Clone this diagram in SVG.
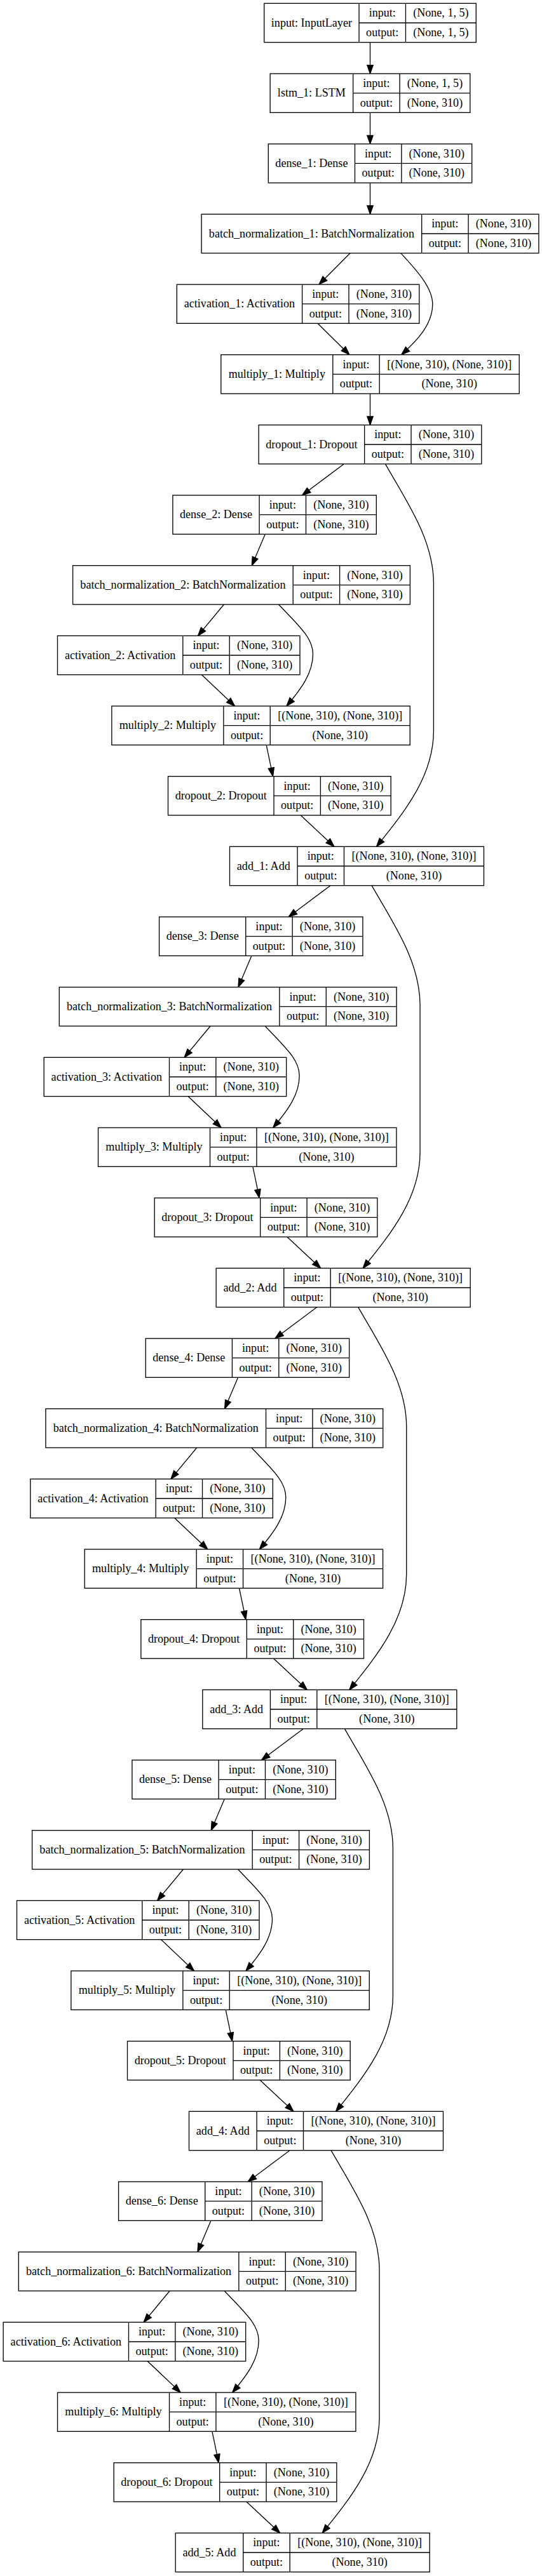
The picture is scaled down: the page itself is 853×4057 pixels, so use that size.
<svg xmlns="http://www.w3.org/2000/svg" width="853" height="4057" viewBox="0 0 853 4057">
<style>
.n rect{fill:#fff;stroke:#000;stroke-width:1.33}
.n path{fill:none;stroke:#000;stroke-width:1.33}
.n text{font-family:"Liberation Serif","Times New Roman",serif;font-size:18.1px;text-anchor:middle;fill:#000}
.e{fill:none;stroke:#000;stroke-width:1.33;marker-end:url(#arr)}
</style>
<defs>
<marker id="arr" markerUnits="userSpaceOnUse" markerWidth="16" markerHeight="12" refX="13.33" refY="4.67" orient="auto" viewBox="0 0 16 12" overflow="visible">
<path d="M0,0 L13.33,4.67 L0,9.33 Z" fill="#000" stroke="#000" stroke-width="1.33" stroke-linejoin="miter"/>
</marker>
</defs>
<rect x="0" y="0" width="853" height="4057" fill="#fff"/>

<g id="connectors">
<path class="e" d="M582.5,66.67 L582.5,116"/>
<path class="e" d="M582.5,177.33 L582.5,226.67"/>
<path class="e" d="M582.5,288 L582.5,337.33"/>
<path class="e" d="M551,398.67 L502,448"/>
<path class="e" d="M630.7,398.67 C660,430 680.8,455 680.8,479 C680.8,510 658,535 631.7,558.67"/>
<path class="e" d="M500,509.33 L550,558.67"/>
<path class="e" d="M582.5,620 L582.5,669.33"/>
<g id="block_edges_1">
<path class="e" d="M541.3,730.67 L475.5,780"/>
<path class="e" d="M606.4,730.67 C640,790 682.4,850 682.4,919 L682.4,1151 C682.4,1220 640,1275 592.5,1333.33"/>
<path class="e" d="M417.3,841.33 L396.3,890.67"/>
<path class="e" d="M352.4,952 L311.5,1001.33"/>
<path class="e" d="M438.5,952 C470,985 492.5,1005 492.5,1030 C492.5,1060 474,1085 451,1112"/>
<path class="e" d="M317.5,1062.67 L369.5,1112"/>
<path class="e" d="M419.2,1173.33 L429.5,1222.67"/>
<path class="e" d="M473.2,1284 L526,1333.33"/>
</g>
<g id="block_edges_2" transform="translate(-21.333,664)">
<path class="e" d="M541.3,730.67 L475.5,780"/>
<path class="e" d="M606.4,730.67 C640,790 682.4,850 682.4,919 L682.4,1151 C682.4,1220 640,1275 592.5,1333.33"/>
<path class="e" d="M417.3,841.33 L396.3,890.67"/>
<path class="e" d="M352.4,952 L311.5,1001.33"/>
<path class="e" d="M438.5,952 C470,985 492.5,1005 492.5,1030 C492.5,1060 474,1085 451,1112"/>
<path class="e" d="M317.5,1062.67 L369.5,1112"/>
<path class="e" d="M419.2,1173.33 L429.5,1222.67"/>
<path class="e" d="M473.2,1284 L526,1333.33"/>
</g>
<g id="block_edges_3" transform="translate(-42.667,1328)">
<path class="e" d="M541.3,730.67 L475.5,780"/>
<path class="e" d="M606.4,730.67 C640,790 682.4,850 682.4,919 L682.4,1151 C682.4,1220 640,1275 592.5,1333.33"/>
<path class="e" d="M417.3,841.33 L396.3,890.67"/>
<path class="e" d="M352.4,952 L311.5,1001.33"/>
<path class="e" d="M438.5,952 C470,985 492.5,1005 492.5,1030 C492.5,1060 474,1085 451,1112"/>
<path class="e" d="M317.5,1062.67 L369.5,1112"/>
<path class="e" d="M419.2,1173.33 L429.5,1222.67"/>
<path class="e" d="M473.2,1284 L526,1333.33"/>
</g>
<g id="block_edges_4" transform="translate(-64,1992)">
<path class="e" d="M541.3,730.67 L475.5,780"/>
<path class="e" d="M606.4,730.67 C640,790 682.4,850 682.4,919 L682.4,1151 C682.4,1220 640,1275 592.5,1333.33"/>
<path class="e" d="M417.3,841.33 L396.3,890.67"/>
<path class="e" d="M352.4,952 L311.5,1001.33"/>
<path class="e" d="M438.5,952 C470,985 492.5,1005 492.5,1030 C492.5,1060 474,1085 451,1112"/>
<path class="e" d="M317.5,1062.67 L369.5,1112"/>
<path class="e" d="M419.2,1173.33 L429.5,1222.67"/>
<path class="e" d="M473.2,1284 L526,1333.33"/>
</g>
<g id="block_edges_5" transform="translate(-85.333,2656)">
<path class="e" d="M541.3,730.67 L475.5,780"/>
<path class="e" d="M606.4,730.67 C640,790 682.4,850 682.4,919 L682.4,1151 C682.4,1220 640,1275 592.5,1333.33"/>
<path class="e" d="M417.3,841.33 L396.3,890.67"/>
<path class="e" d="M352.4,952 L311.5,1001.33"/>
<path class="e" d="M438.5,952 C470,985 492.5,1005 492.5,1030 C492.5,1060 474,1085 451,1112"/>
<path class="e" d="M317.5,1062.67 L369.5,1112"/>
<path class="e" d="M419.2,1173.33 L429.5,1222.67"/>
<path class="e" d="M473.2,1284 L526,1333.33"/>
</g>
</g>

<g id="input" class="n" transform="translate(415.75,5.33)"><rect width="333.5" height="61.33"/><path d="M149.3,0V61.33M222.7,0V61.33M149.3,30.67H333.5"/><text x="74.65" y="36.3">input: InputLayer</text><text x="186" y="21">input:</text><text x="186" y="51.7">output:</text><text x="278.1" y="21">(None, 1, 5)</text><text x="278.1" y="51.7">(None, 1, 5)</text></g>
<g id="lstm_1" class="n" transform="translate(425.15,116)"><rect width="314.7" height="61.33"/><path d="M130.5,0V61.33M203.9,0V61.33M130.5,30.67H314.7"/><text x="65.25" y="36.3">lstm_1: LSTM</text><text x="167.2" y="21">input:</text><text x="167.2" y="51.7">output:</text><text x="259.3" y="21">(None, 1, 5)</text><text x="259.3" y="51.7">(None, 310)</text></g>
<g id="dense_1" class="n" transform="translate(422.3,226.67)"><rect width="320.4" height="61.33"/><path d="M136.2,0V61.33M209.6,0V61.33M136.2,30.67H320.4"/><text x="68.1" y="36.3">dense_1: Dense</text><text x="172.9" y="21">input:</text><text x="172.9" y="51.7">output:</text><text x="265" y="21">(None, 310)</text><text x="265" y="51.7">(None, 310)</text></g>
<g id="batch_normalization_1" class="n" transform="translate(317.1,337.33)"><rect width="530.8" height="61.33"/><path d="M346.6,0V61.33M420,0V61.33M346.6,30.67H530.8"/><text x="173.3" y="36.3">batch_normalization_1: BatchNormalization</text><text x="383.3" y="21">input:</text><text x="383.3" y="51.7">output:</text><text x="475.4" y="21">(None, 310)</text><text x="475.4" y="51.7">(None, 310)</text></g>
<g id="activation_1" class="n" transform="translate(278.3,448)"><rect width="381.5" height="61.33"/><path d="M197.3,0V61.33M270.7,0V61.33M197.3,30.67H381.5"/><text x="98.65" y="36.3">activation_1: Activation</text><text x="234" y="21">input:</text><text x="234" y="51.7">output:</text><text x="326.1" y="21">(None, 310)</text><text x="326.1" y="51.7">(None, 310)</text></g>
<g id="multiply_1" class="n" transform="translate(347.8,558.67)"><rect width="469.4" height="61.33"/><path d="M176,0V61.33M249.4,0V61.33M176,30.67H469.4"/><text x="88" y="36.3">multiply_1: Multiply</text><text x="212.7" y="21">input:</text><text x="212.7" y="51.7">output:</text><text x="359.4" y="21">[(None, 310), (None, 310)]</text><text x="359.4" y="51.7">(None, 310)</text></g>
<g id="dropout_1" class="n" transform="translate(407.15,669.33)"><rect width="350.7" height="61.33"/><path d="M166.5,0V61.33M239.9,0V61.33M166.5,30.67H350.7"/><text x="83.25" y="36.3">dropout_1: Dropout</text><text x="203.2" y="21">input:</text><text x="203.2" y="51.7">output:</text><text x="295.3" y="21">(None, 310)</text><text x="295.3" y="51.7">(None, 310)</text></g>

<g id="dense_2" class="n" transform="translate(271.9,780)"><rect width="320.4" height="61.33"/><path d="M136.2,0V61.33M209.6,0V61.33M136.2,30.67H320.4"/><text x="68.1" y="36.3">dense_2: Dense</text><text x="172.9" y="21">input:</text><text x="172.9" y="51.7">output:</text><text x="265" y="21">(None, 310)</text><text x="265" y="51.7">(None, 310)</text></g>
<g id="batch_normalization_2" class="n" transform="translate(114.6,890.67)"><rect width="530.8" height="61.33"/><path d="M346.6,0V61.33M420,0V61.33M346.6,30.67H530.8"/><text x="173.3" y="36.3">batch_normalization_2: BatchNormalization</text><text x="383.3" y="21">input:</text><text x="383.3" y="51.7">output:</text><text x="475.4" y="21">(None, 310)</text><text x="475.4" y="51.7">(None, 310)</text></g>
<g id="activation_2" class="n" transform="translate(90.5,1001.33)"><rect width="381.5" height="61.33"/><path d="M197.3,0V61.33M270.7,0V61.33M197.3,30.67H381.5"/><text x="98.65" y="36.3">activation_2: Activation</text><text x="234" y="21">input:</text><text x="234" y="51.7">output:</text><text x="326.1" y="21">(None, 310)</text><text x="326.1" y="51.7">(None, 310)</text></g>
<g id="multiply_2" class="n" transform="translate(175.85,1112)"><rect width="469.4" height="61.33"/><path d="M176,0V61.33M249.4,0V61.33M176,30.67H469.4"/><text x="88" y="36.3">multiply_2: Multiply</text><text x="212.7" y="21">input:</text><text x="212.7" y="51.7">output:</text><text x="359.4" y="21">[(None, 310), (None, 310)]</text><text x="359.4" y="51.7">(None, 310)</text></g>
<g id="dropout_2" class="n" transform="translate(264.5,1222.67)"><rect width="350.7" height="61.33"/><path d="M166.5,0V61.33M239.9,0V61.33M166.5,30.67H350.7"/><text x="83.25" y="36.3">dropout_2: Dropout</text><text x="203.2" y="21">input:</text><text x="203.2" y="51.7">output:</text><text x="295.3" y="21">(None, 310)</text><text x="295.3" y="51.7">(None, 310)</text></g>
<g id="add_1" class="n" transform="translate(361.5,1333.33)"><rect width="400" height="61.33"/><path d="M106.6,0V61.33M180,0V61.33M106.6,30.67H400"/><text x="53.3" y="36.3">add_1: Add</text><text x="143.3" y="21">input:</text><text x="143.3" y="51.7">output:</text><text x="290" y="21">[(None, 310), (None, 310)]</text><text x="290" y="51.7">(None, 310)</text></g>

<g id="dense_3" class="n" transform="translate(250.57,1444)"><rect width="320.4" height="61.33"/><path d="M136.2,0V61.33M209.6,0V61.33M136.2,30.67H320.4"/><text x="68.1" y="36.3">dense_3: Dense</text><text x="172.9" y="21">input:</text><text x="172.9" y="51.7">output:</text><text x="265" y="21">(None, 310)</text><text x="265" y="51.7">(None, 310)</text></g>
<g id="batch_normalization_3" class="n" transform="translate(93.27,1554.67)"><rect width="530.8" height="61.33"/><path d="M346.6,0V61.33M420,0V61.33M346.6,30.67H530.8"/><text x="173.3" y="36.3">batch_normalization_3: BatchNormalization</text><text x="383.3" y="21">input:</text><text x="383.3" y="51.7">output:</text><text x="475.4" y="21">(None, 310)</text><text x="475.4" y="51.7">(None, 310)</text></g>
<g id="activation_3" class="n" transform="translate(69.17,1665.33)"><rect width="381.5" height="61.33"/><path d="M197.3,0V61.33M270.7,0V61.33M197.3,30.67H381.5"/><text x="98.65" y="36.3">activation_3: Activation</text><text x="234" y="21">input:</text><text x="234" y="51.7">output:</text><text x="326.1" y="21">(None, 310)</text><text x="326.1" y="51.7">(None, 310)</text></g>
<g id="multiply_3" class="n" transform="translate(154.52,1776)"><rect width="469.4" height="61.33"/><path d="M176,0V61.33M249.4,0V61.33M176,30.67H469.4"/><text x="88" y="36.3">multiply_3: Multiply</text><text x="212.7" y="21">input:</text><text x="212.7" y="51.7">output:</text><text x="359.4" y="21">[(None, 310), (None, 310)]</text><text x="359.4" y="51.7">(None, 310)</text></g>
<g id="dropout_3" class="n" transform="translate(243.17,1886.67)"><rect width="350.7" height="61.33"/><path d="M166.5,0V61.33M239.9,0V61.33M166.5,30.67H350.7"/><text x="83.25" y="36.3">dropout_3: Dropout</text><text x="203.2" y="21">input:</text><text x="203.2" y="51.7">output:</text><text x="295.3" y="21">(None, 310)</text><text x="295.3" y="51.7">(None, 310)</text></g>
<g id="add_2" class="n" transform="translate(340.17,1997.33)"><rect width="400" height="61.33"/><path d="M106.6,0V61.33M180,0V61.33M106.6,30.67H400"/><text x="53.3" y="36.3">add_2: Add</text><text x="143.3" y="21">input:</text><text x="143.3" y="51.7">output:</text><text x="290" y="21">[(None, 310), (None, 310)]</text><text x="290" y="51.7">(None, 310)</text></g>

<g id="dense_4" class="n" transform="translate(229.23,2108)"><rect width="320.4" height="61.33"/><path d="M136.2,0V61.33M209.6,0V61.33M136.2,30.67H320.4"/><text x="68.1" y="36.3">dense_4: Dense</text><text x="172.9" y="21">input:</text><text x="172.9" y="51.7">output:</text><text x="265" y="21">(None, 310)</text><text x="265" y="51.7">(None, 310)</text></g>
<g id="batch_normalization_4" class="n" transform="translate(71.93,2218.67)"><rect width="530.8" height="61.33"/><path d="M346.6,0V61.33M420,0V61.33M346.6,30.67H530.8"/><text x="173.3" y="36.3">batch_normalization_4: BatchNormalization</text><text x="383.3" y="21">input:</text><text x="383.3" y="51.7">output:</text><text x="475.4" y="21">(None, 310)</text><text x="475.4" y="51.7">(None, 310)</text></g>
<g id="activation_4" class="n" transform="translate(47.83,2329.33)"><rect width="381.5" height="61.33"/><path d="M197.3,0V61.33M270.7,0V61.33M197.3,30.67H381.5"/><text x="98.65" y="36.3">activation_4: Activation</text><text x="234" y="21">input:</text><text x="234" y="51.7">output:</text><text x="326.1" y="21">(None, 310)</text><text x="326.1" y="51.7">(None, 310)</text></g>
<g id="multiply_4" class="n" transform="translate(133.18,2440)"><rect width="469.4" height="61.33"/><path d="M176,0V61.33M249.4,0V61.33M176,30.67H469.4"/><text x="88" y="36.3">multiply_4: Multiply</text><text x="212.7" y="21">input:</text><text x="212.7" y="51.7">output:</text><text x="359.4" y="21">[(None, 310), (None, 310)]</text><text x="359.4" y="51.7">(None, 310)</text></g>
<g id="dropout_4" class="n" transform="translate(221.83,2550.67)"><rect width="350.7" height="61.33"/><path d="M166.5,0V61.33M239.9,0V61.33M166.5,30.67H350.7"/><text x="83.25" y="36.3">dropout_4: Dropout</text><text x="203.2" y="21">input:</text><text x="203.2" y="51.7">output:</text><text x="295.3" y="21">(None, 310)</text><text x="295.3" y="51.7">(None, 310)</text></g>
<g id="add_3" class="n" transform="translate(318.83,2661.33)"><rect width="400" height="61.33"/><path d="M106.6,0V61.33M180,0V61.33M106.6,30.67H400"/><text x="53.3" y="36.3">add_3: Add</text><text x="143.3" y="21">input:</text><text x="143.3" y="51.7">output:</text><text x="290" y="21">[(None, 310), (None, 310)]</text><text x="290" y="51.7">(None, 310)</text></g>

<g id="dense_5" class="n" transform="translate(207.9,2772)"><rect width="320.4" height="61.33"/><path d="M136.2,0V61.33M209.6,0V61.33M136.2,30.67H320.4"/><text x="68.1" y="36.3">dense_5: Dense</text><text x="172.9" y="21">input:</text><text x="172.9" y="51.7">output:</text><text x="265" y="21">(None, 310)</text><text x="265" y="51.7">(None, 310)</text></g>
<g id="batch_normalization_5" class="n" transform="translate(50.6,2882.67)"><rect width="530.8" height="61.33"/><path d="M346.6,0V61.33M420,0V61.33M346.6,30.67H530.8"/><text x="173.3" y="36.3">batch_normalization_5: BatchNormalization</text><text x="383.3" y="21">input:</text><text x="383.3" y="51.7">output:</text><text x="475.4" y="21">(None, 310)</text><text x="475.4" y="51.7">(None, 310)</text></g>
<g id="activation_5" class="n" transform="translate(26.5,2993.33)"><rect width="381.5" height="61.33"/><path d="M197.3,0V61.33M270.7,0V61.33M197.3,30.67H381.5"/><text x="98.65" y="36.3">activation_5: Activation</text><text x="234" y="21">input:</text><text x="234" y="51.7">output:</text><text x="326.1" y="21">(None, 310)</text><text x="326.1" y="51.7">(None, 310)</text></g>
<g id="multiply_5" class="n" transform="translate(111.85,3104)"><rect width="469.4" height="61.33"/><path d="M176,0V61.33M249.4,0V61.33M176,30.67H469.4"/><text x="88" y="36.3">multiply_5: Multiply</text><text x="212.7" y="21">input:</text><text x="212.7" y="51.7">output:</text><text x="359.4" y="21">[(None, 310), (None, 310)]</text><text x="359.4" y="51.7">(None, 310)</text></g>
<g id="dropout_5" class="n" transform="translate(200.5,3214.67)"><rect width="350.7" height="61.33"/><path d="M166.5,0V61.33M239.9,0V61.33M166.5,30.67H350.7"/><text x="83.25" y="36.3">dropout_5: Dropout</text><text x="203.2" y="21">input:</text><text x="203.2" y="51.7">output:</text><text x="295.3" y="21">(None, 310)</text><text x="295.3" y="51.7">(None, 310)</text></g>
<g id="add_4" class="n" transform="translate(297.5,3325.33)"><rect width="400" height="61.33"/><path d="M106.6,0V61.33M180,0V61.33M106.6,30.67H400"/><text x="53.3" y="36.3">add_4: Add</text><text x="143.3" y="21">input:</text><text x="143.3" y="51.7">output:</text><text x="290" y="21">[(None, 310), (None, 310)]</text><text x="290" y="51.7">(None, 310)</text></g>

<g id="dense_6" class="n" transform="translate(186.57,3436)"><rect width="320.4" height="61.33"/><path d="M136.2,0V61.33M209.6,0V61.33M136.2,30.67H320.4"/><text x="68.1" y="36.3">dense_6: Dense</text><text x="172.9" y="21">input:</text><text x="172.9" y="51.7">output:</text><text x="265" y="21">(None, 310)</text><text x="265" y="51.7">(None, 310)</text></g>
<g id="batch_normalization_6" class="n" transform="translate(29.27,3546.67)"><rect width="530.8" height="61.33"/><path d="M346.6,0V61.33M420,0V61.33M346.6,30.67H530.8"/><text x="173.3" y="36.3">batch_normalization_6: BatchNormalization</text><text x="383.3" y="21">input:</text><text x="383.3" y="51.7">output:</text><text x="475.4" y="21">(None, 310)</text><text x="475.4" y="51.7">(None, 310)</text></g>
<g id="activation_6" class="n" transform="translate(5.17,3657.33)"><rect width="381.5" height="61.33"/><path d="M197.3,0V61.33M270.7,0V61.33M197.3,30.67H381.5"/><text x="98.65" y="36.3">activation_6: Activation</text><text x="234" y="21">input:</text><text x="234" y="51.7">output:</text><text x="326.1" y="21">(None, 310)</text><text x="326.1" y="51.7">(None, 310)</text></g>
<g id="multiply_6" class="n" transform="translate(90.52,3768)"><rect width="469.4" height="61.33"/><path d="M176,0V61.33M249.4,0V61.33M176,30.67H469.4"/><text x="88" y="36.3">multiply_6: Multiply</text><text x="212.7" y="21">input:</text><text x="212.7" y="51.7">output:</text><text x="359.4" y="21">[(None, 310), (None, 310)]</text><text x="359.4" y="51.7">(None, 310)</text></g>
<g id="dropout_6" class="n" transform="translate(179.17,3878.67)"><rect width="350.7" height="61.33"/><path d="M166.5,0V61.33M239.9,0V61.33M166.5,30.67H350.7"/><text x="83.25" y="36.3">dropout_6: Dropout</text><text x="203.2" y="21">input:</text><text x="203.2" y="51.7">output:</text><text x="295.3" y="21">(None, 310)</text><text x="295.3" y="51.7">(None, 310)</text></g>
<g id="add_5" class="n" transform="translate(276.17,3989.33)"><rect width="400" height="61.33"/><path d="M106.6,0V61.33M180,0V61.33M106.6,30.67H400"/><text x="53.3" y="36.3">add_5: Add</text><text x="143.3" y="21">input:</text><text x="143.3" y="51.7">output:</text><text x="290" y="21">[(None, 310), (None, 310)]</text><text x="290" y="51.7">(None, 310)</text></g>
</svg>
